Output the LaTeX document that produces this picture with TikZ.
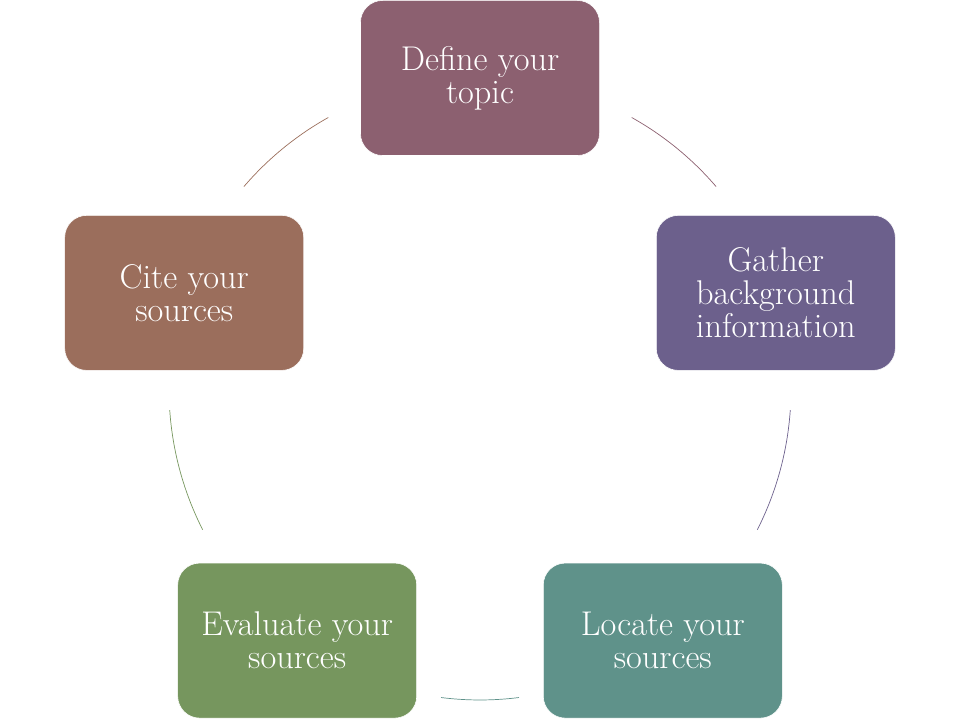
\documentclass[tikz,border=0pt]{standalone}
\usepackage{xcolor}
\usepackage{tikz}
\usetikzlibrary{positioning}

\definecolor{defcol}{RGB}{140,96,112}
\definecolor{gathcol}{RGB}{108,96,140}
\definecolor{loccol}{RGB}{95,146,138}
\definecolor{evalcol}{RGB}{118,150,94}
\definecolor{citecol}{RGB}{155,110,92}

\tikzset{
  stagebox/.style={rectangle,rounded corners=0.55cm,draw=white,line width=0.4pt,
    minimum width=5.975cm,minimum height=3.875cm,text=white,align=center,
    font=\fontsize{24.4}{23.5}\selectfont},
  ring/.style={line width=0.5pt}
}

\begin{document}
\begin{tikzpicture}[x=0.025cm,y=0.025cm]
    \useasboundingbox (0,0) rectangle (960,720);
    \coordinate (c) at (480,331);
    \node[stagebox,fill=defcol] (define) at ([shift={(90:311)}]c) {Define your\\topic};
    \node[stagebox,fill=gathcol] (gather) at ([shift={(18:311)}]c) {Gather\\background\\information};
    \node[stagebox,fill=loccol] (locate) at ([shift={(-54:311)}]c) {Locate your\\sources};
    \node[stagebox,fill=evalcol] (evaluate) at ([shift={(-126:311)}]c) {Evaluate your\\sources};
    \node[stagebox,fill=citecol] (cite) at ([shift={(162:311)}]c) {Cite your\\sources};

    \draw[ring,defcol] ([shift={(60.8:311)}]c) arc[start angle=60.8,end angle=40.6,radius=311];
    \draw[ring,gathcol] ([shift={(-3.9:311)}]c) arc[start angle=-3.9,end angle=-26.9,radius=311];
    \draw[ring,loccol] ([shift={(-82.8:311)}]c) arc[start angle=-82.8,end angle=-97.2,radius=311];
    \draw[ring,evalcol] ([shift={(-153.1:311)}]c) arc[start angle=-153.1,end angle=-176.1,radius=311];
    \draw[ring,citecol] ([shift={(139.4:311)}]c) arc[start angle=139.4,end angle=119.2,radius=311];
\end{tikzpicture}
\end{document}
